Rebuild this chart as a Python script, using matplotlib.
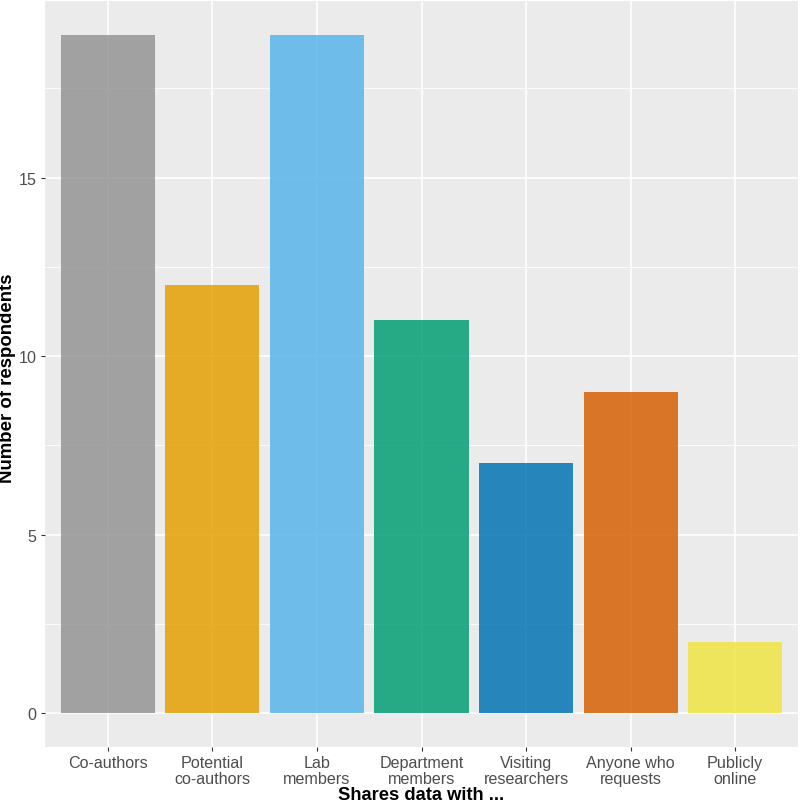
import matplotlib
matplotlib.use("Agg")
import matplotlib.pyplot as plt

categories = ["Co-authors", "Potential\nco-authors", "Lab\nmembers", "Department\nmembers",
              "Visiting\nresearchers", "Anyone who\nrequests", "Publicly\nonline"]
values = [19, 12, 19, 11, 7, 9, 2]
colors = ["#939393", "#E69F00", "#56B4E9", "#009E73", "#0072B2", "#D55E00", "#F0E442"]
yticks = [0, 5, 10, 15]

plt.rcParams['font.family'] = ['Liberation Sans', 'DejaVu Sans']
fig = plt.figure(figsize=(8, 8.03), dpi=100)
ax = fig.add_axes([45/800, 55/803, 753/800, 746/803])
ax.set_facecolor("#EBEBEB")
x = list(range(len(categories)))
ax.bar(x, values, width=0.9, color=colors, alpha=0.84, zorder=3)
ax.set_xlim(-0.6, len(categories) - 0.4)
ax.set_ylim(-0.95, 19.95)
ax.set_yticks(yticks)
ax.set_yticks([2.5, 7.5, 12.5, 17.5], minor=True)
ax.set_xticks(x)
ax.set_xticklabels(categories, linespacing=1.08)
ax.grid(True, which="major", color="white", linewidth=1.2, zorder=0)
ax.grid(True, which="minor", axis="y", color="white", linewidth=0.6, zorder=0)
for s in ax.spines.values():
    s.set_visible(False)
ax.tick_params(axis="both", which="major", colors="#333333", labelcolor="#4D4D4D",
               labelsize=11.6, length=3, width=0.8, pad=3)
ax.tick_params(axis="y", which="minor", length=0)
ax.set_xlabel("Shares data with ...", fontsize=13.2, fontweight="bold", labelpad=0)
ax.set_ylabel("Number of respondents", fontsize=13.4, fontweight="bold")
ax.yaxis.set_label_coords(-0.0385, 0.496)
fig.savefig("out.png", dpi=100, facecolor="white")
